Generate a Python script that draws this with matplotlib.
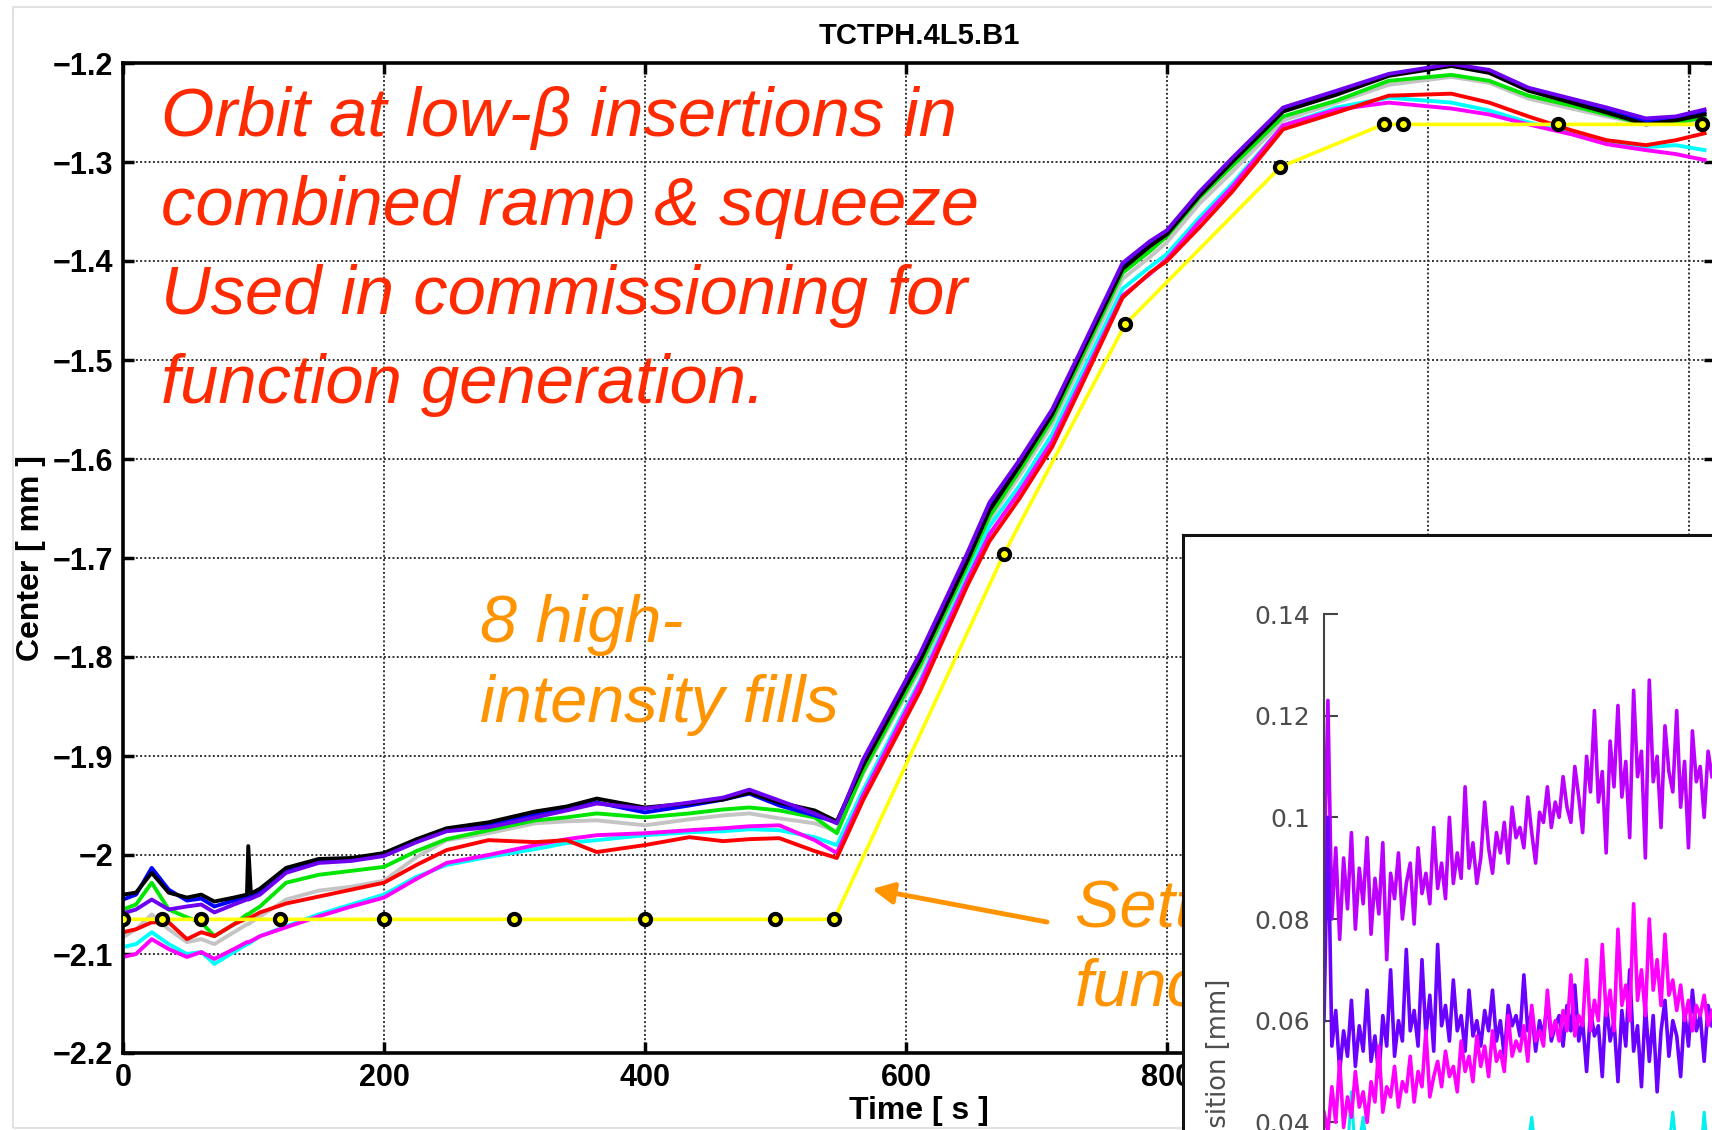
import matplotlib
matplotlib.use("Agg")
import matplotlib.pyplot as plt
from matplotlib.patches import Rectangle, FancyArrowPatch
from matplotlib.ticker import FuncFormatter

# time base of the measured orbit traces [s]
t = [0, 10, 22, 35, 49, 60, 70, 85, 95, 96,
     98, 105, 125, 150, 175, 200, 225, 248, 280, 316,
     340, 363, 400, 434, 460, 480, 503, 530, 547, 567,
     611, 647, 664, 687, 712, 733, 766, 787, 800, 825,
     850, 889, 930, 970, 1018, 1047, 1077, 1110, 1137, 1167,
     1190, 1212]

black = [-2.040, -2.038, -2.018, -2.038, -2.043, -2.040, -2.047, -2.043, -2.040, -1.991,
         -2.039, -2.034, -2.013, -2.004, -2.003, -1.998, -1.984, -1.973, -1.967, -1.956,
         -1.951, -1.943, -1.952, -1.948, -1.944, -1.937, -1.947, -1.955, -1.966, -1.910,
         -1.803, -1.703, -1.652, -1.607, -1.555, -1.497, -1.408, -1.385, -1.373, -1.334,
         -1.300, -1.249, -1.232, -1.213, -1.203, -1.210, -1.228, -1.240, -1.250, -1.262,
         -1.258, -1.252]
purple = [-2.059, -2.055, -2.045, -2.055, -2.052, -2.050, -2.058, -2.050, -2.045, -2.045,
          -2.044, -2.040, -2.018, -2.008, -2.006, -2.001, -1.987, -1.976, -1.972, -1.962,
          -1.955, -1.948, -1.953, -1.947, -1.942, -1.934, -1.945, -1.958, -1.968, -1.904,
          -1.796, -1.695, -1.644, -1.601, -1.550, -1.493, -1.402, -1.380, -1.369, -1.330,
          -1.296, -1.245, -1.228, -1.211, -1.201, -1.207, -1.225, -1.236, -1.245, -1.256,
          -1.254, -1.247]
blue = [-2.045, -2.040, -2.013, -2.035, -2.046, -2.044, -2.052, -2.046, -2.042, -2.042,
        -2.041, -2.037, -2.015, -2.006, -2.005, -2.000, -1.986, -1.975, -1.970, -1.959,
        -1.954, -1.947, -1.957, -1.950, -1.944, -1.938, -1.950, -1.960, -1.967, -1.907,
        -1.800, -1.699, -1.648, -1.604, -1.553, -1.496, -1.405, -1.383, -1.371, -1.332,
        -1.298, -1.247, -1.230, -1.212, -1.202, -1.209, -1.227, -1.238, -1.248, -1.259,
        -1.256, -1.250]
green = [-2.055, -2.050, -2.028, -2.055, -2.063, -2.068, -2.082, -2.070, -2.060, -2.060,
         -2.058, -2.052, -2.028, -2.020, -2.016, -2.012, -1.996, -1.984, -1.975, -1.965,
         -1.962, -1.958, -1.962, -1.958, -1.954, -1.952, -1.955, -1.962, -1.978, -1.916,
         -1.808, -1.708, -1.658, -1.612, -1.560, -1.502, -1.412, -1.390, -1.375, -1.336,
         -1.304, -1.254, -1.238, -1.218, -1.212, -1.218, -1.233, -1.243, -1.252, -1.262,
         -1.260, -1.255]
gray = [-2.083, -2.075, -2.060, -2.075, -2.088, -2.085, -2.090, -2.078, -2.070, -2.070,
        -2.068, -2.062, -2.045, -2.036, -2.032, -2.026, -2.002, -1.985, -1.978, -1.968,
        -1.966, -1.965, -1.970, -1.964, -1.960, -1.958, -1.963, -1.968, -1.976, -1.918,
        -1.812, -1.712, -1.662, -1.617, -1.565, -1.508, -1.418, -1.396, -1.381, -1.342,
        -1.310, -1.258, -1.240, -1.222, -1.214, -1.220, -1.236, -1.246, -1.254, -1.262,
        -1.260, -1.257]
cyan = [-2.093, -2.090, -2.078, -2.090, -2.100, -2.098, -2.110, -2.098, -2.090, -2.090,
        -2.088, -2.082, -2.072, -2.060, -2.050, -2.040, -2.022, -2.010, -2.002, -1.994,
        -1.988, -1.985, -1.980, -1.977, -1.976, -1.974, -1.975, -1.982, -1.990, -1.935,
        -1.823, -1.718, -1.668, -1.627, -1.575, -1.518, -1.428, -1.406, -1.393, -1.356,
        -1.322, -1.263, -1.245, -1.235, -1.240, -1.248, -1.260, -1.270, -1.280, -1.285,
        -1.283, -1.288]
magenta = [-2.103, -2.100, -2.085, -2.095, -2.103, -2.098, -2.105, -2.095, -2.088, -2.088,
           -2.087, -2.082, -2.073, -2.062, -2.052, -2.043, -2.024, -2.008, -2.000, -1.990,
           -1.984, -1.980, -1.978, -1.975, -1.973, -1.971, -1.970, -1.985, -1.998, -1.940,
           -1.826, -1.722, -1.676, -1.633, -1.582, -1.525, -1.435, -1.413, -1.398, -1.360,
           -1.325, -1.263, -1.247, -1.240, -1.246, -1.252, -1.262, -1.272, -1.282, -1.288,
           -1.292, -1.298]
red = [-2.078, -2.075, -2.068, -2.068, -2.085, -2.078, -2.082, -2.070, -2.064, -2.064,
       -2.063, -2.058, -2.049, -2.042, -2.035, -2.028, -2.010, -1.995, -1.985, -1.987,
       -1.985, -1.997, -1.990, -1.982, -1.986, -1.984, -1.983, -1.996, -2.003, -1.945,
       -1.834, -1.728, -1.683, -1.640, -1.588, -1.530, -1.437, -1.412, -1.400, -1.366,
       -1.330, -1.267, -1.250, -1.233, -1.231, -1.240, -1.254, -1.268, -1.278, -1.283,
       -1.278, -1.271]

# setting function (yellow with circles)
sp_t = [0, 30, 60, 120, 200, 300, 400, 500, 545, 675, 768, 887, 966, 981, 1100, 1210]
sp_y = [-2.065, -2.065, -2.065, -2.065, -2.065, -2.065, -2.065, -2.065, -2.065,
        -1.696, -1.464, -1.305, -1.262, -1.262, -1.262, -1.262]

x_ticks = [0, 200, 400, 600, 800, 1000, 1200]
y_ticks = [-2.2, -2.1, -2.0, -1.9, -1.8, -1.7, -1.6, -1.5, -1.4, -1.3, -1.2]

# inset: position traces [mm], one value per sample
in_purple = [0.088, 0.123, 0.080, 0.094, 0.076, 0.092, 0.082, 0.097, 0.078, 0.090,
             0.083, 0.096, 0.077, 0.088, 0.081, 0.095, 0.072, 0.089, 0.084, 0.093,
             0.080, 0.087, 0.091, 0.079, 0.094, 0.085, 0.089, 0.083, 0.098, 0.086,
             0.091, 0.084, 0.100, 0.087, 0.093, 0.088, 0.106, 0.090, 0.095, 0.087,
             0.092, 0.103, 0.094, 0.089, 0.097, 0.093, 0.099, 0.091, 0.102, 0.096,
             0.098, 0.094, 0.104, 0.097, 0.091, 0.101, 0.099, 0.106, 0.098, 0.103,
             0.100, 0.108, 0.102, 0.099, 0.110, 0.104, 0.097, 0.112, 0.105, 0.121,
             0.103, 0.109, 0.093, 0.115, 0.106, 0.122, 0.104, 0.111, 0.096, 0.125,
             0.108, 0.113, 0.092, 0.127, 0.107, 0.112, 0.098, 0.118, 0.109, 0.105,
             0.121, 0.102, 0.111, 0.094, 0.117, 0.107, 0.110, 0.100, 0.113, 0.108]
in_violet = [0.060, 0.100, 0.055, 0.062, 0.050, 0.058, 0.053, 0.064, 0.051, 0.059,
             0.054, 0.066, 0.052, 0.057, 0.049, 0.061, 0.055, 0.070, 0.053, 0.060,
             0.056, 0.074, 0.058, 0.062, 0.055, 0.072, 0.057, 0.065, 0.054, 0.075,
             0.059, 0.063, 0.056, 0.068, 0.058, 0.061, 0.054, 0.066, 0.057, 0.060,
             0.055, 0.062, 0.058, 0.066, 0.056, 0.060, 0.053, 0.063, 0.059, 0.061,
             0.057, 0.069, 0.058, 0.062, 0.054, 0.060, 0.057, 0.064, 0.056, 0.059,
             0.061, 0.055, 0.063, 0.058, 0.067, 0.056, 0.060, 0.050, 0.062, 0.057,
             0.059, 0.049, 0.064, 0.056, 0.060, 0.048, 0.062, 0.055, 0.070, 0.054,
             0.059, 0.047, 0.063, 0.052, 0.061, 0.046, 0.058, 0.064, 0.053, 0.060,
             0.057, 0.049, 0.062, 0.055, 0.066, 0.058, 0.061, 0.052, 0.063, 0.059]
in_magenta = [0.042, 0.038, 0.047, 0.040, 0.052, 0.039, 0.045, 0.041, 0.050, 0.043,
              0.046, 0.040, 0.048, 0.044, 0.055, 0.042, 0.047, 0.045, 0.051, 0.043,
              0.048, 0.046, 0.053, 0.044, 0.050, 0.047, 0.058, 0.045, 0.049, 0.052,
              0.047, 0.054, 0.049, 0.051, 0.046, 0.056, 0.050, 0.053, 0.048, 0.057,
              0.051, 0.055, 0.049, 0.058, 0.052, 0.054, 0.050, 0.061, 0.053, 0.056,
              0.054, 0.059, 0.052, 0.063, 0.056, 0.058, 0.055, 0.066, 0.057, 0.060,
              0.056, 0.062, 0.058, 0.069, 0.057, 0.061, 0.059, 0.072, 0.058, 0.064,
              0.060, 0.075, 0.061, 0.066, 0.058, 0.078, 0.063, 0.067, 0.060, 0.083,
              0.064, 0.070, 0.061, 0.080, 0.066, 0.072, 0.063, 0.077, 0.065, 0.068,
              0.062, 0.067, 0.060, 0.064, 0.058, 0.063, 0.061, 0.065, 0.059, 0.062]
in_cyan = [0.034, 0.036, 0.032, 0.035, 0.033, 0.031, 0.034, 0.046, 0.033, 0.036,
           0.041, 0.034, 0.031, 0.035, 0.033, 0.032, 0.036, 0.034, 0.031, 0.035,
           0.033, 0.035, 0.032, 0.034, 0.031, 0.036, 0.033, 0.035, 0.032, 0.034,
           0.033, 0.031, 0.035, 0.032, 0.036, 0.033, 0.034, 0.031, 0.035, 0.033,
           0.034, 0.032, 0.036, 0.033, 0.035, 0.031, 0.034, 0.032, 0.035, 0.033,
           0.036, 0.033, 0.035, 0.041, 0.034, 0.033, 0.031, 0.035, 0.034, 0.036,
           0.034, 0.032, 0.036, 0.033, 0.035, 0.034, 0.032, 0.035, 0.033, 0.036,
           0.033, 0.035, 0.032, 0.034, 0.031, 0.036, 0.033, 0.035, 0.032, 0.034,
           0.033, 0.031, 0.035, 0.032, 0.036, 0.033, 0.034, 0.031, 0.035, 0.042,
           0.034, 0.032, 0.036, 0.033, 0.035, 0.034, 0.032, 0.042, 0.033, 0.035]
in_ticks = [0.04, 0.06, 0.08, 0.10, 0.12, 0.14]

W, H = 1712, 1130
RED_TXT = "#ff2a00"
ORANGE = "#ff9300"


def fx(x):
    return x / W


def fy(y):
    return 1 - y / H


fig = plt.figure(figsize=(W / 100, H / 100), dpi=100)
fig.patch.set_facecolor("white")

# thin slide frame
fig.add_artist(Rectangle((fx(13), fy(1128)), 1.2, (1128 - 7) / H, transform=fig.transFigure,
                         fill=False, edgecolor="#e2e2e2", lw=1.5, zorder=0))

# main plot
ax = fig.add_axes([fx(123), fy(1053), (1715 - 123) / W, (1053 - 63) / H])
traces = [(gray, "#c4c4c4"), (green, "#00e600"), (cyan, "#00ffff"), (magenta, "#ff00ff"),
          (red, "#ff0000"), (blue, "#0000ff"), (black, "#000000"), (purple, "#6e00f0")]
for vals, col in traces:
    ax.plot(t, vals, color=col, lw=2.8, solid_joinstyle="round")
ax.plot(sp_t, sp_y, color="#ffff00", lw=2.6, marker="o", ms=8, mfc="#ffff00",
        mec="black", mew=3, zorder=4)

ax.set_xlim(0, 1220)
ax.set_ylim(-2.2, -1.2)
ax.set_xticks(x_ticks)
ax.set_yticks(y_ticks)
fmt = FuncFormatter(lambda v, p: ("%g" % round(v, 3)).replace("-", "\u2212"))
ax.xaxis.set_major_formatter(fmt)
ax.yaxis.set_major_formatter(fmt)
ax.grid(True, color="#333333", linestyle=(0, (1, 1.2)), lw=1.4)
ax.tick_params(direction="in", length=8, width=2.5, top=True, right=True,
               labelsize=22, pad=7)
for lab in ax.get_xticklabels() + ax.get_yticklabels():
    lab.set_fontweight("bold")
    lab.set_family("Liberation Sans")
for sp in ax.spines.values():
    sp.set_linewidth(2.6)
ax.set_title("TCTPH.4L5.B1", fontsize=21, fontweight="bold", family="Liberation Sans", pad=14)
ax.set_xlabel("Time [ s ]", fontsize=23, fontweight="bold", family="Liberation Sans", labelpad=2)
ax.set_ylabel("Center [ mm ]", fontsize=23, fontweight="bold", family="Liberation Sans", labelpad=5)

# annotations
red_lines = ["Orbit at low-\u03b2 insertions in", "combined ramp & squeeze",
             "Used in commissioning for", "function generation."]
for i, line in enumerate(red_lines):
    fig.text(fx(161), fy(136 + 89 * i), line, color=RED_TXT, fontsize=49.5, style="italic",
             family="Liberation Sans", va="baseline", zorder=3)
for i, line in enumerate(["8 high-", "intensity fills"]):
    fig.text(fx(480), fy(642 + 80 * i), line, color=ORANGE, fontsize=48, style="italic",
             family="Liberation Sans", va="baseline", zorder=3)
for i, line in enumerate(["Settings of", "function"]):
    fig.text(fx(1075), fy(927 + 78 * i), line, color=ORANGE, fontsize=48, style="italic",
             family="Liberation Sans", va="baseline", zorder=3)
fig.add_artist(FancyArrowPatch((fx(1047), fy(922)), (fx(872), fy(889)), transform=fig.transFigure,
                               arrowstyle="-|>", mutation_scale=32, lw=3.5, color=ORANGE,
                               shrinkA=0, shrinkB=0, zorder=3))

# inset box
box = fig.add_axes([fx(1183), -0.05, 0.4, fy(535) + 0.05], zorder=5)
box.set_facecolor("white")
box.set_xticks([])
box.set_yticks([])
for sp in box.spines.values():
    sp.set_linewidth(2.2)
    sp.set_color("#111111")

ax_in = fig.add_axes([fx(1324), fy(1224), (1712 - 1324) / W, (1224 - 614) / H], zorder=6)
ax_in.set_facecolor("none")
idx = list(range(len(in_purple)))
ax_in.plot(idx, in_cyan, color="#00f0f0", lw=2.2)
ax_in.plot(idx, in_purple, color="#bb00ff", lw=2.6)
ax_in.plot(idx, in_violet, color="#6a00ff", lw=2.6)
ax_in.plot(idx, in_magenta, color="#ff00ff", lw=2.6)
ax_in.set_xlim(0, len(idx) - 1)
ax_in.set_ylim(0.02, 0.14)
ax_in.set_xticks([])
ax_in.set_yticks(in_ticks)
ax_in.set_yticklabels(["%g" % v for v in in_ticks])
ax_in.tick_params(axis="y", direction="in", length=10, width=1.5, color="#444444",
                  labelcolor="#4d4d4d", labelsize=18, pad=10)
for lab in ax_in.get_yticklabels():
    lab.set_family("DejaVu Sans")
for name, sp in ax_in.spines.items():
    sp.set_visible(name == "left")
ax_in.spines["left"].set_color("#444444")
ax_in.spines["left"].set_linewidth(1.5)
fig.text(fx(1219), fy(979), "Position [mm]", rotation=90, ha="center", va="top",
         color="#4d4d4d", fontsize=18.5, family="DejaVu Sans", zorder=7)

fig.savefig("out.png", dpi=100)
